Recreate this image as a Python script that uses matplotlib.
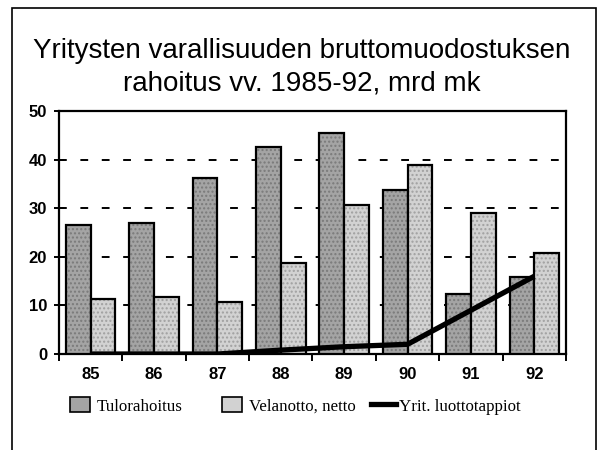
import matplotlib.pyplot as plt
import numpy as np
from matplotlib.patches import Rectangle
from matplotlib.lines import Line2D

years = ["85", "86", "87", "88", "89", "90", "91", "92"]
tulorahoitus = [26.5, 27.0, 36.2, 42.6, 45.5, 33.7, 12.3, 15.8]
velanotto = [11.3, 11.7, 10.7, 18.7, 30.6, 38.9, 29.0, 20.8]
luottotappiot = [0.0, 0.0, 0.0, 0.8, 1.5, 2.0, 9.0, 16.0]

fig = plt.figure(figsize=(6.04, 4.5), dpi=100)
ax = fig.add_axes([0.0977, 0.2133, 0.8393, 0.54])

x = np.arange(len(years))
w = 0.39
# fill + light stipple + black outline
ax.bar(x - w / 2, tulorahoitus, w, color="#a4a4a4", linewidth=0, zorder=3)
ax.bar(x - w / 2, tulorahoitus, w, color="none", edgecolor="#7a7a7a",
       linewidth=0, hatch="....", zorder=3)
ax.bar(x - w / 2, tulorahoitus, w, color="none", edgecolor="black",
       linewidth=1.6, zorder=3)
ax.bar(x + w / 2, velanotto, w, color="#d2d2d2", linewidth=0, zorder=3)
ax.bar(x + w / 2, velanotto, w, color="none", edgecolor="#a0a0a0",
       linewidth=0, hatch="....", zorder=3)
ax.bar(x + w / 2, velanotto, w, color="none", edgecolor="black",
       linewidth=1.6, zorder=3)
ax.plot(x, luottotappiot, color="black", linewidth=3.8, zorder=4,
        solid_capstyle="butt")

ax.set_xlim(-0.5, len(years) - 0.5)
ax.set_ylim(0, 50)
ax.set_yticks([0, 10, 20, 30, 40, 50])
for v in [10, 20, 30, 40]:
    ax.axhline(v, color="black", linewidth=1.4, linestyle=(0, (4, 7)), zorder=1)

ax.set_xticks(x)
ax.set_xticklabels(years)
ax.set_xticks(np.arange(-0.5, len(years)), minor=True)
ax.tick_params(axis="x", which="major", length=0, pad=9)
ax.tick_params(axis="x", which="minor", length=5, width=1.4, direction="out")
ax.tick_params(axis="y", length=7, width=1.4, direction="inout", pad=5)
for lab in ax.get_xticklabels() + ax.get_yticklabels():
    lab.set_fontfamily("Liberation Sans")
    lab.set_fontsize(12)
    lab.set_fontweight("bold")
for s in ax.spines.values():
    s.set_linewidth(1.6)

fig.text(0.5, 0.851, "Yritysten varallisuuden bruttomuodostuksen\nrahoitus vv. 1985-92, mrd mk",
         ha="center", va="center", fontsize=20, family="Liberation Sans",
         linespacing=1.3)

# legend: three separate entries placed like the original slots
handles = [
    Rectangle((0, 0), 1, 1, facecolor="#a4a4a4", edgecolor="black", linewidth=1.2),
    Rectangle((0, 0), 1, 1, facecolor="#d2d2d2", edgecolor="black", linewidth=1.2),
    Line2D([0], [0], color="black", linewidth=3.8),
]
labels = ["Tulorahoitus", "Velanotto, netto", "Yrit. luottotappiot"]
left_px = [70, 222, 371]
for i, (h, l, px) in enumerate(zip(handles, labels, left_px)):
    fig.legend([h], [l], loc="center left",
               bbox_to_anchor=(px / 604, 1 - 406 / 450), frameon=False,
               prop={"family": "Liberation Serif", "size": 12.2},
               handlelength=1.5 if i == 2 else 1.2,
               handleheight=0.95, handletextpad=0.15 if i == 2 else 0.4,
               borderpad=0, borderaxespad=0)

fig.add_artist(Rectangle((12 / 604, -0.01), 584 / 604, 1.01 - 8 / 450,
                         transform=fig.transFigure, fill=False,
                         edgecolor="black", linewidth=1.2))

fig.savefig("out.png", dpi=100)
